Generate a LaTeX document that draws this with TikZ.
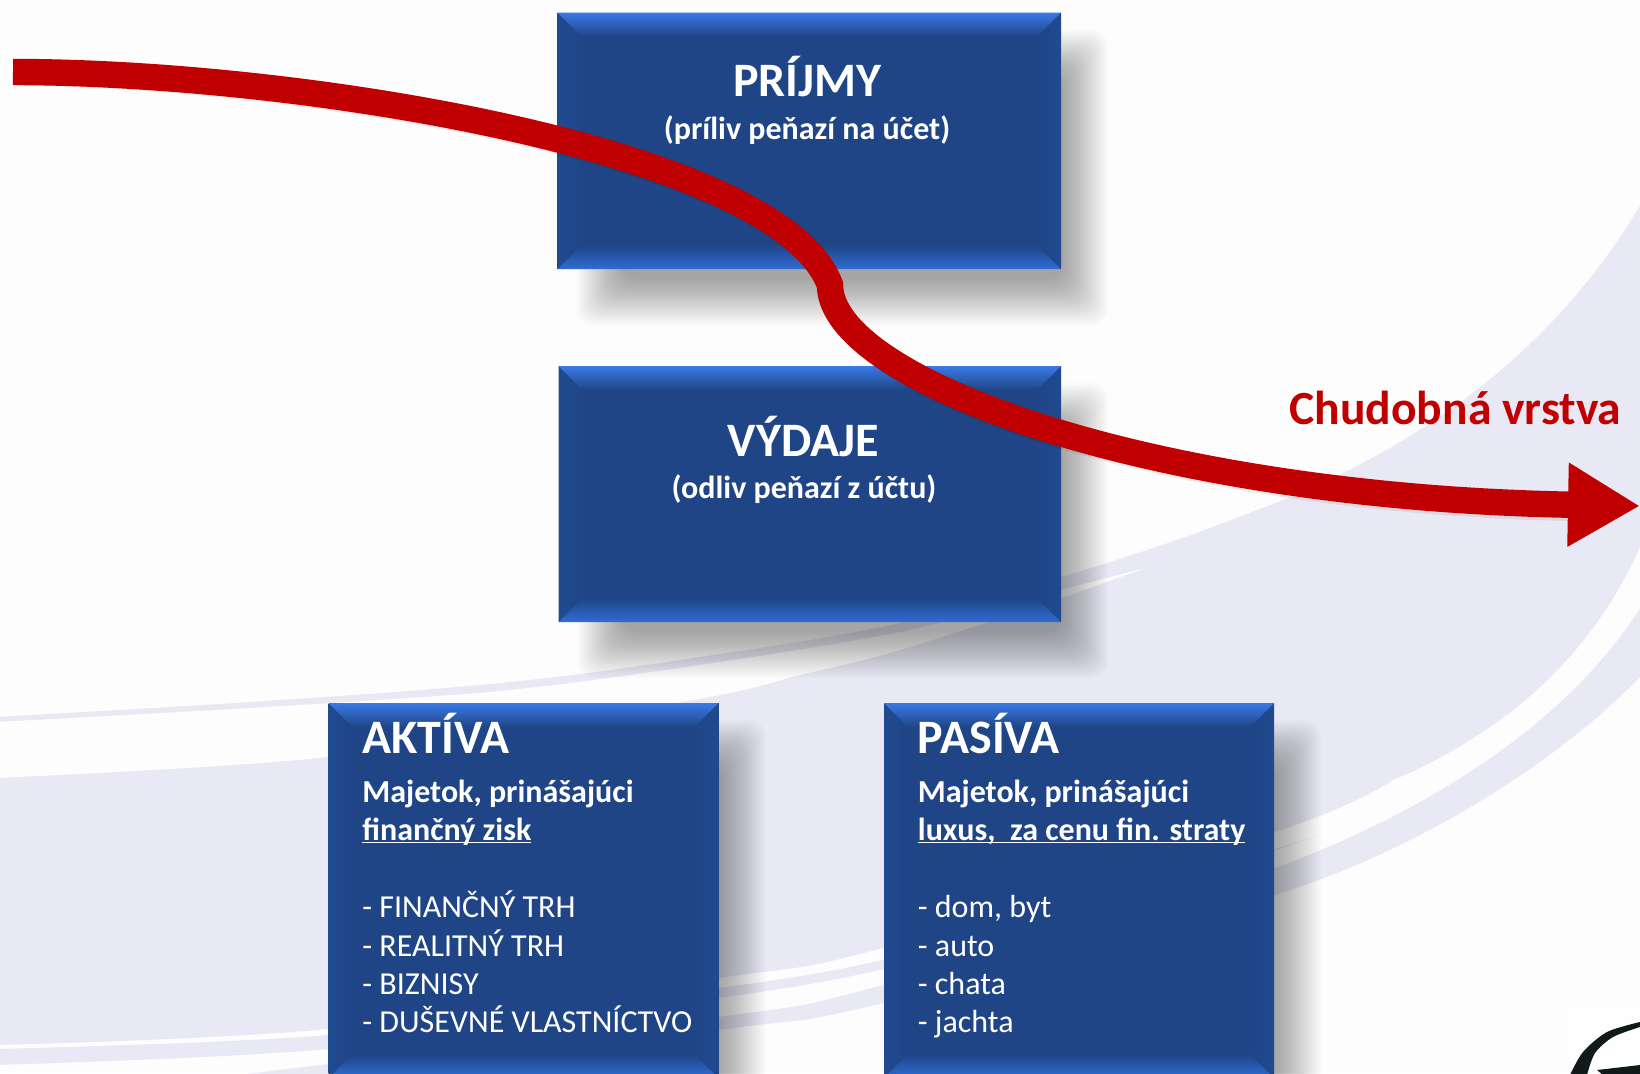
\documentclass[tikz,border=0pt]{standalone}
\usepackage{fontspec}
\setmainfont{Carlito}
\usetikzlibrary{arrows.meta}
\definecolor{bgwhite}{HTML}{FDFDFD}
\definecolor{lav}{HTML}{E9E9F5}
\definecolor{boxblue}{HTML}{1F4586}
\definecolor{bevtop}{HTML}{3A7AE6}
\definecolor{bevbot}{HTML}{2F6CD4}
\definecolor{bevside}{HTML}{204A90}
\definecolor{arrowred}{HTML}{C00000}
\definecolor{logoink}{HTML}{101A1A}
\tikzset{
  bandfill/.style={fill=lav},
  stripefill/.style={fill=bgwhite},
  boxnode/.style={fill=boxblue,inner sep=0pt,outer sep=0pt,draw=none},
  titletext/.style={text=white,inner sep=0pt,font=\fontsize{24}{26}\selectfont\bfseries},
  subtext/.style={text=white,inner sep=0pt,font=\fontsize{16}{18}\selectfont\bfseries},
  itemtext/.style={text=white,inner sep=0pt,font=\fontsize{16}{18}\selectfont},
  redlabel/.style={text=arrowred,inner sep=0pt,font=\fontsize{23.8}{26}\selectfont\bfseries},
  redflow/.style={draw=arrowred,line width=13.2pt,-{Triangle[length=36pt,width=39.5pt,color=arrowred]}},
  redshade/.style={draw=black,opacity=.07,line width=13.2pt},
}
\newsavebox\ulbox
\newcommand\ulin[1]{\sbox\ulbox{#1}\rlap{\rule[-1.7pt]{\wd\ulbox}{.8pt}}\usebox\ulbox}
\newcommand\bevelbox[5]{%
  % soft shadow: stacked translucent rectangles
  \foreach \d in {-23,-21,...,23}{
    \fill[black,opacity=.0155,rounded corners=8pt]
      (#2+42-\d,#3+40-\d) rectangle (#4+24+\d,#5+33+\d);
  }
  \pgfmathsetmacro\wpt{(#4-#2)*0.5}
  \pgfmathsetmacro\hpt{(#5-#3)*0.5}
  \node[boxnode,minimum width=\wpt pt,minimum height=\hpt pt,anchor=north west] (#1) at (#2,#3) {};
  \shade[left color=bevside,right color=boxblue] (#2,#3) -- (#2+24,#3+24) -- (#2+24,#5-24) -- (#2,#5) -- cycle;
  \shade[left color=boxblue,right color=bevside] (#4,#3) -- (#4-24,#3+24) -- (#4-24,#5-24) -- (#4,#5) -- cycle;
  \shade[top color=bevtop,bottom color=boxblue] (#2,#3) -- (#4,#3) -- (#4-24,#3+24) -- (#2+24,#3+24) -- cycle;
  \shade[top color=boxblue,bottom color=bevbot] (#2+24,#5-24) -- (#4-24,#5-24) -- (#4,#5) -- (#2,#5) -- cycle;
}
\begin{document}
\begin{tikzpicture}[x=.5pt,y=-.5pt]
\path[use as bounding box,clip] (0,0) rectangle (1640,1073);
\fill[bgwhite] (0,0) rectangle (1640,1073);

% big background swoosh
\fill[bandfill] plot[smooth,tension=.6] coordinates {(-5,717) (250,702) (500,683) (700,657) (900,623) (1061,577) (1147,550) (1210,528) (1283,500)}
  .. controls (1430,440) and (1560,345) .. (1645,197)
  -- (1645,530) -- (1640,547)
  .. controls (1590,660) and (1500,735) .. (1393,780)
  -- plot[smooth,tension=.6] coordinates {(1393,780) (1275,832) (883,948) (719,978) (328,1029) (-5,1045)} -- cycle;
% white stripe below the thin band
\fill[stripefill] plot[smooth,tension=.5] coordinates {(-5,722) (250,708) (500,691) (700,665) (900,632) (1061,590) (1145,568)}
  -- plot[smooth,tension=.5] coordinates {(1145,568) (1061,598) (900,650) (800,675) (693,700) (328,757) (-5,778)} -- cycle;
% lower thin band (tapers off)
\fill[bandfill] plot[smooth,tension=.5] coordinates {(-5,1049) (328,1035) (719,988) (883,960) (1100,903) (1320,835)}
  -- plot[smooth,tension=.5] coordinates {(1320,835) (1100,908) (883,969) (719,998) (328,1049) (-5,1065)} -- cycle;
% lowest band
\fill[bandfill] plot[smooth,tension=.6] coordinates {(240,1075) (328,1064) (719,1017) (883,985) (1275,868)}
  .. controls (1420,815) and (1570,725) .. (1645,600)
  -- (1645,672) -- (1640,677)
  .. controls (1560,760) and (1420,850) .. (1275,895)
  -- plot[smooth,tension=.6] coordinates {(1275,895) (883,1003) (719,1030) (328,1080) (240,1085)} -- cycle;

% logo fragment
\fill[white!60!bgwhite] (1563,1007) rectangle (1640,1073);
\fill[logoink] plot[smooth,tension=.5] coordinates {(1640,1022) (1607,1032) (1583,1052) (1570,1075)}
  -- plot[smooth,tension=.5] coordinates {(1587,1075) (1595,1053) (1613,1037) (1640,1027)} -- cycle;
\fill[logoink] (1597,1070) -- (1640,1065) -- (1640,1075) -- (1603,1075) -- cycle;

% boxes
\bevelbox{prijmy}{557.5}{12.5}{1061}{269}
\bevelbox{vydaje}{558.5}{366}{1061}{622}
\bevelbox{aktiva}{328.5}{703}{718.5}{1078}
\bevelbox{pasiva}{884}{703}{1274}{1078}

% box texts
\node[titletext,anchor=base] (t1) at (807.5,96) {PRÍJMY};
\node[subtext,anchor=base] (t2) at (807,139) {(príliv peňazí na účet)};
\node[titletext,anchor=base] (t3) at (803.5,456) {VÝDAJE};
\node[subtext,anchor=base] (t4) at (804,498) {(odliv peňazí z účtu)};

\node[titletext,anchor=base west] (a1) at (362,753) {AKTÍVA};
\node[subtext,anchor=base west] (a2) at (362,802) {Majetok, prinášajúci};
\node[subtext,anchor=base west] (a3) at (362,840) {\ulin{finančný zisk}};
\node[itemtext,anchor=base west] (a4) at (362,917) {- FINANČNÝ TRH};
\node[itemtext,anchor=base west] (a5) at (362,956) {- REALITNÝ TRH};
\node[itemtext,anchor=base west] (a6) at (362,994) {- BIZNISY};
\node[itemtext,anchor=base west] (a7) at (362,1032) {- DUŠEVNÉ VLASTNÍCTVO};

\node[titletext,anchor=base west] (p1) at (917.5,753) {PASÍVA};
\node[subtext,anchor=base west] (p2) at (917.5,802) {Majetok, prinášajúci};
\node[subtext,anchor=base west] (p3) at (917.5,840) {\ulin{luxus,\ \ za cenu fin. straty}};
\node[itemtext,anchor=base west] (p4) at (917.5,917) {- dom, byt};
\node[itemtext,anchor=base west] (p5) at (917.5,956) {- auto};
\node[itemtext,anchor=base west] (p6) at (917.5,994) {- chata};
\node[itemtext,anchor=base west] (p7) at (917.5,1032) {- jachta};

\node[redlabel,anchor=base west] (chud) at (1289,424) {Chudobná vrstva};

% flow arrow
\coordinate (flowstart) at (13,72);
\coordinate (flowmid) at (830,285);
\coordinate (flowend) at (1640,506);
\draw[redshade,shift={(2,3)}] (flowstart) .. controls (300,72) and (780,150) .. (flowmid)
  .. controls (830,380) and (1150,497) .. (1575,505);
\draw[redflow] (flowstart) .. controls (300,72) and (780,150) .. (flowmid)
  .. controls (830,380) and (1150,497) .. (flowend);
\end{tikzpicture}
\end{document}
